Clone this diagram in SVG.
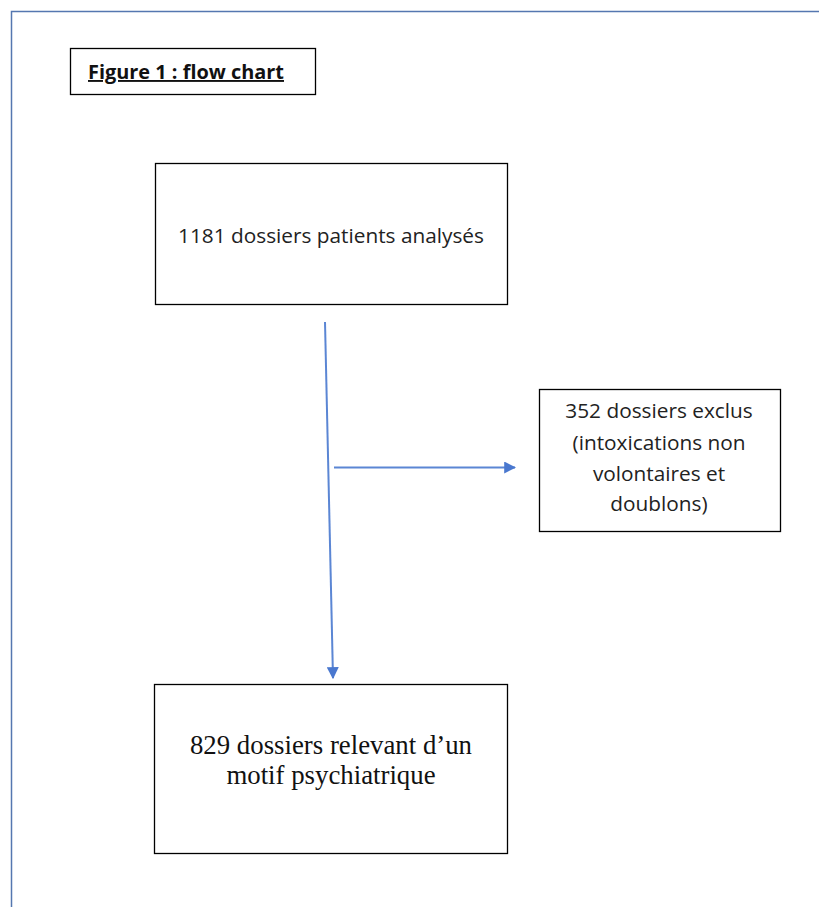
<svg xmlns="http://www.w3.org/2000/svg" width="819" height="907" viewBox="0 0 819 907">
<style>
.box{fill:#fff;stroke:#000;stroke-width:1.3}
.sans{font-family:"Open Sans","Liberation Sans",sans-serif;font-size:20.8px;fill:#222;text-anchor:middle}
.serif{font-family:"Liberation Serif",serif;font-size:26.8px;fill:#111;text-anchor:middle}
.conn{stroke:#5b86d4;stroke-width:2;fill:none}
</style>
<defs>
<marker id="ah" viewBox="0 0 10 10" refX="9" refY="5" markerWidth="6" markerHeight="6" orient="auto" markerUnits="strokeWidth">
<path d="M0,0 L10,5 L0,10 z" fill="#4a78cf"/>
</marker>
</defs>
<rect width="819" height="907" fill="#fff"/>
<path d="M11.5,907 V11.5 H819" fill="none" stroke="#5577b0" stroke-width="1.5"/>
<g id="title">
<rect class="box" x="70.5" y="48.5" width="245" height="46"/>
<text x="186" y="79" font-family="'Open Sans','Liberation Sans',sans-serif" font-weight="bold" font-size="19" fill="#111" text-anchor="middle" text-decoration="underline" textLength="196" lengthAdjust="spacingAndGlyphs">Figure 1 : flow chart</text>
</g>
<g id="n1">
<rect class="box" x="155.5" y="163.5" width="352" height="141"/>
<text class="sans" x="331" y="243">1181 dossiers patients analysés</text>
</g>
<g id="n2">
<rect class="box" x="539.5" y="389.5" width="241" height="142"/>
<text class="sans" x="659" y="418">352 dossiers exclus</text>
<text class="sans" x="659" y="450">(intoxications non</text>
<text class="sans" x="659" y="481">volontaires et</text>
<text class="sans" x="659" y="511">doublons)</text>
</g>
<g id="n3">
<rect class="box" x="154.5" y="684.5" width="353" height="169"/>
<text class="serif" x="331" y="754">829 dossiers relevant d’un</text>
<text class="serif" x="331" y="784">motif psychiatrique</text>
</g>
<g id="connectors">
<line class="conn" x1="325" y1="322" x2="333" y2="678" marker-end="url(#ah)"/>
<line class="conn" x1="334" y1="467.5" x2="515" y2="467.5" marker-end="url(#ah)"/>
</g>
</svg>
